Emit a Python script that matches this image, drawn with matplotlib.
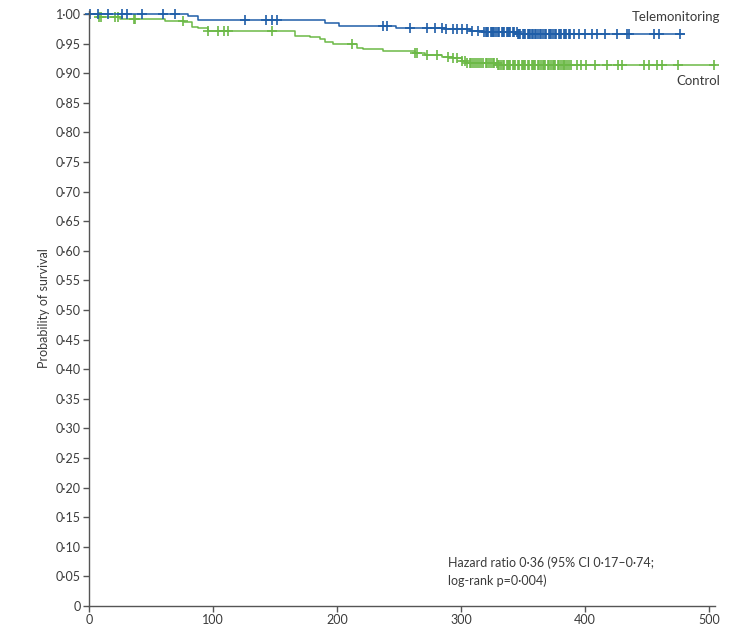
import matplotlib.pyplot as plt
import numpy as np

# Kaplan-Meier steps (days, survival)
tele_times = [0, 80, 88, 190, 202, 248, 287, 307, 319, 346]
tele_surv = [1.0, 0.9966, 0.990, 0.984, 0.980, 0.977, 0.974, 0.971, 0.969, 0.966]
tele_end = 480

ctrl_times = [0, 7, 25, 61, 77, 83, 88, 96, 166, 178, 186, 190, 197, 216, 221,
              237, 263, 271, 285, 294, 301, 305, 330]
ctrl_surv = [1.0, 0.9954, 0.9916, 0.9887, 0.986, 0.9785, 0.976, 0.971, 0.963, 0.961,
             0.957, 0.953, 0.949, 0.943, 0.940, 0.9375, 0.9336, 0.9307, 0.928, 0.925,
             0.921, 0.918, 0.914]
ctrl_end = 505

# censoring times
tele_cens = [1, 7, 15, 27, 31, 43, 60, 69, 126, 143, 148, 152, 237, 240, 259, 273,
             279, 285, 288, 294, 297, 301, 305, 309, 314, 319, 320, 321, 322, 324, 325,
             326, 327, 328, 330, 331, 333, 334, 335, 337, 338, 339, 340, 342, 343, 345,
             346, 347, 348, 350, 351, 352, 354, 355, 356, 357, 358, 360, 361, 362, 364,
             365, 366, 368, 369, 371, 372, 373, 374, 376, 377, 379, 380, 381, 383, 384,
             385, 387, 388, 391, 395, 400, 406, 410, 416, 426, 434, 436, 456, 460, 477]
ctrl_cens = [8, 10, 21, 23, 36, 37, 76, 96, 104, 109, 112, 148, 212, 263, 265, 273,
             281, 290, 294, 297, 301, 303, 305, 307, 308, 310, 311, 313, 315, 316, 318,
             320, 321, 323, 324, 326, 327, 329, 330, 331, 332, 334, 335, 337, 338, 339,
             340, 342, 343, 344, 346, 347, 349, 350, 351, 352, 354, 355, 357, 358, 359,
             360, 362, 363, 365, 366, 367, 368, 370, 371, 373, 374, 375, 376, 378, 379,
             381, 382, 383, 384, 386, 387, 389, 394, 397, 401, 408, 418, 427, 430,
             448, 452, 458, 462, 475, 504]

blue = '#1f5ea8'
green = '#6cb947'
txt = '#3b3b3b'

plt.rcParams['font.family'] = ['Lato', 'DejaVu Sans']

fig = plt.figure(figsize=(7.33, 6.29), dpi=100)
ax = fig.add_axes([89/733, 23/629, 626/733, 595/629])


def draw(times, surv, end, cens, col):
    t = list(times) + [end]
    s = list(surv) + [surv[-1]]
    ax.step(t, s, where='post', color=col, lw=1.1, clip_on=False)
    idx = np.searchsorted(times, cens, side='right') - 1
    ys = np.array(surv)[idx]
    ax.plot(cens, ys, ls='none', marker='+', ms=7.5, mew=1.2, color=col, clip_on=False)


draw(ctrl_times, ctrl_surv, ctrl_end, ctrl_cens, green)
draw(tele_times, tele_surv, tele_end, tele_cens, blue)

ax.set_xlim(0, 505)
ax.set_ylim(0, 1.005)
yt = np.arange(0, 21) * 0.05
ax.set_yticks(yt)
ax.set_yticklabels(['0'] + [('%.2f' % v).replace('.', '\u00b7') for v in yt[1:]])
ax.set_xticks([0, 100, 200, 300, 400, 500])
for s in ['top', 'right']:
    ax.spines[s].set_visible(False)
for s in ['left', 'bottom']:
    ax.spines[s].set_color('#555555')
    ax.spines[s].set_linewidth(1.0)
ax.tick_params(direction='out', length=4, width=1.0, color='#555555',
               labelsize=9, labelcolor=txt, pad=2)
ax.set_ylabel('Probability of survival', fontsize=9, color=txt, labelpad=4)

ax.text(509, 1.0 - (17 - 14) / 592, 'Telemonitoring',
        ha='right', va='center', fontsize=9.5, color=txt, clip_on=False)
ax.text(509, 1.0 - (81 - 14) / 592, 'Control', ha='right', va='center',
        fontsize=9.5, color=txt, clip_on=False)
ax.text(290, 0.058, 'Hazard ratio 0\u00b736 (95% CI 0\u00b717\u20130\u00b774;\nlog-rank p=0\u00b7004)',
        ha='left', va='center', fontsize=9, color=txt, linespacing=1.5)

fig.savefig('out.png', dpi=100)
